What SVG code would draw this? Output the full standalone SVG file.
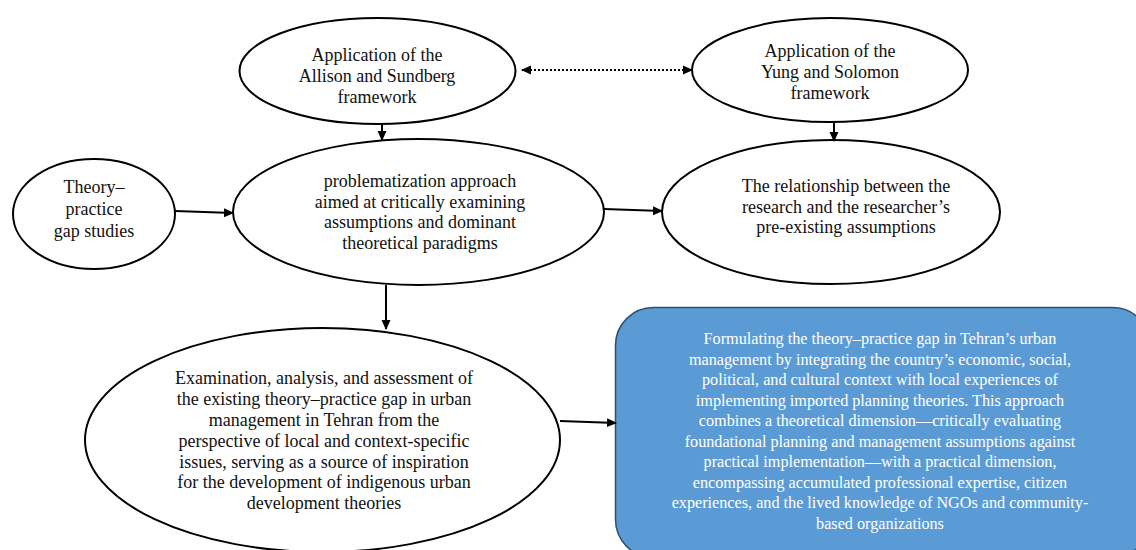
<svg xmlns="http://www.w3.org/2000/svg" width="1136" height="550" viewBox="0 0 1136 550">
<defs>
<marker id="ah" markerWidth="10" markerHeight="10" refX="9" refY="5" orient="auto" markerUnits="userSpaceOnUse">
<path d="M0,0.5 L10,5 L0,9.5 Z" fill="#000"/>
</marker>
<marker id="ahs" markerWidth="10" markerHeight="10" refX="1" refY="5" orient="auto" markerUnits="userSpaceOnUse">
<path d="M10,0.5 L0,5 L10,9.5 Z" fill="#000"/>
</marker>
</defs>
<style>
.n{fill:#fff;stroke:#000;stroke-width:2}
.t{font-family:'Liberation Serif','Times New Roman',serif;font-size:18px;fill:#111;text-anchor:middle}
.w{font-family:'Liberation Serif','Times New Roman',serif;font-size:16.2px;fill:#fff;text-anchor:middle}
.c{stroke:#000;stroke-width:2;fill:none;marker-end:url(#ah)}
</style>
<rect width="1136" height="550" fill="#fff"/>
<g id="allison">
<ellipse class="n" cx="377.5" cy="71" rx="138" ry="53"/>
<text class="t" x="377" y="61">Application of the</text>
<text class="t" x="377" y="82">Allison and Sundberg</text>
<text class="t" x="377" y="103">framework</text>
</g>
<g id="yung">
<ellipse class="n" cx="830" cy="70" rx="138" ry="52"/>
<text class="t" x="830" y="57">Application of the</text>
<text class="t" x="830" y="78">Yung and Solomon</text>
<text class="t" x="830" y="99">framework</text>
</g>
<g id="theory">
<ellipse class="n" cx="94" cy="214" rx="81" ry="55"/>
<text class="t" x="94" y="193">Theory–</text>
<text class="t" x="94" y="215">practice</text>
<text class="t" x="94" y="237">gap studies</text>
</g>
<g id="problematization">
<ellipse class="n" cx="418.5" cy="212" rx="185.5" ry="73"/>
<text class="t" x="420" y="187">problematization approach</text>
<text class="t" x="420" y="207.5">aimed at critically examining</text>
<text class="t" x="420" y="228">assumptions and dominant</text>
<text class="t" x="420" y="248.5">theoretical paradigms</text>
</g>
<g id="relationship">
<ellipse class="n" cx="831" cy="212" rx="169" ry="72"/>
<text class="t" x="846" y="192">The relationship between the</text>
<text class="t" x="846" y="212.5">research and the researcher’s</text>
<text class="t" x="846" y="233">pre-existing assumptions</text>
</g>
<g id="examination">
<ellipse class="n" cx="322.5" cy="440" rx="237.5" ry="112"/>
<text class="t" x="324" y="384">Examination, analysis, and assessment of</text>
<text class="t" x="324" y="405">the existing theory–practice gap in urban</text>
<text class="t" x="324" y="425.5">management in Tehran from the</text>
<text class="t" x="324" y="446.5">perspective of local and context-specific</text>
<text class="t" x="324" y="467.5">issues, serving as a source of inspiration</text>
<text class="t" x="324" y="488">for the development of indigenous urban</text>
<text class="t" x="324" y="508.5">development theories</text>
</g>
<g id="formulating">
<rect x="615.5" y="307.5" width="535" height="250" rx="38" ry="38" fill="#5B9BD5" stroke="#2E4F6E" stroke-width="1.5"/>
<text class="w" x="880" y="344">Formulating the theory–practice gap in Tehran’s urban</text>
<text class="w" x="880" y="364.5">management by integrating the country’s economic, social,</text>
<text class="w" x="880" y="385">political, and cultural context with local experiences of</text>
<text class="w" x="880" y="405.5">implementing imported planning theories. This approach</text>
<text class="w" x="880" y="426">combines a theoretical dimension—critically evaluating</text>
<text class="w" x="880" y="446.5">foundational planning and management assumptions against</text>
<text class="w" x="880" y="467">practical implementation—with a practical dimension,</text>
<text class="w" x="880" y="487.5">encompassing accumulated professional expertise, citizen</text>
<text class="w" x="880" y="508">experiences, and the lived knowledge of NGOs and community-</text>
<text class="w" x="880" y="528.5">based organizations</text>
</g>
<g id="connectors">
<line class="c" x1="175" y1="211" x2="233" y2="213"/>
<line class="c" x1="604" y1="209" x2="662" y2="211"/>
<line class="c" x1="382" y1="124" x2="382" y2="140"/>
<line class="c" x1="834" y1="122" x2="834" y2="141"/>
<line class="c" x1="386" y1="285" x2="386" y2="329"/>
<line class="c" x1="560" y1="421" x2="616" y2="423"/>
<line x1="522" y1="70" x2="692" y2="70" stroke="#000" stroke-width="2" stroke-dasharray="2,2" marker-start="url(#ahs)" marker-end="url(#ah)"/>
</g>
</svg>
